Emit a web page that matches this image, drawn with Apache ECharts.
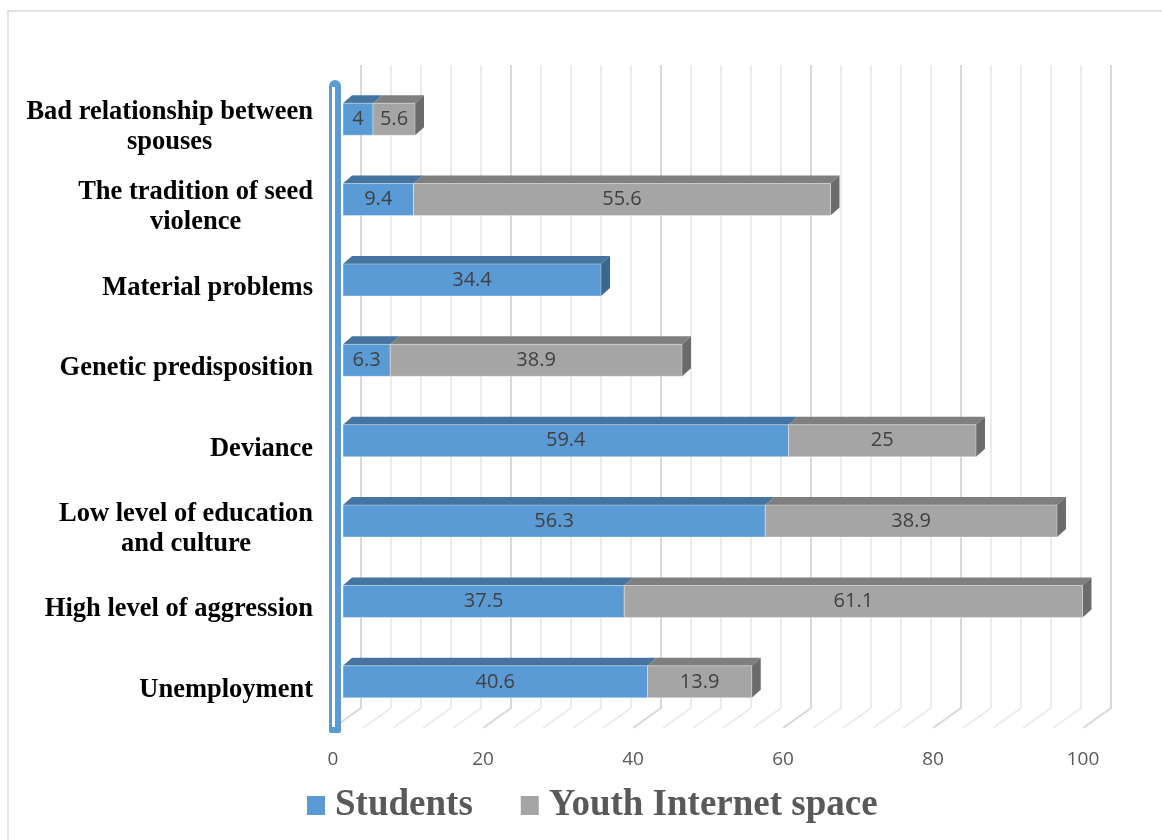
<!DOCTYPE html>
<html>
<head>
<meta charset="utf-8">
<script src="https://cdn.jsdelivr.net/npm/echarts@6/dist/echarts.min.js"></script>
<style>
  html, body { margin: 0; padding: 0; background: #ffffff; }
  #chart { width: 1162px; height: 840px; }
</style>
</head>
<body>
<div id="chart"></div>
<script>
// Perceived causes of violence, stacked by source
const categories = [
  'Bad relationship between\nspouses',
  'The tradition of seed\nviolence',
  'Material problems',
  'Genetic predisposition',
  'Deviance',
  'Low level of education\nand culture',
  'High level of aggression',
  'Unemployment'
];
const students      = [4, 9.4, 34.4, 6.3, 59.4, 56.3, 37.5, 40.6];
const youthInternet = [5.6, 55.6, null, 38.9, 25, 38.9, 61.1, 13.9];
const seriesNames   = ['Students', 'Youth Internet space'];
const xTicks        = [0, 20, 40, 60, 80, 100];
// back-wall grid lines (minor every 4, major every 20)
const wallLines = [0, 4, 8, 12, 16, 20, 24, 28, 32, 36, 40, 44, 48, 52, 56, 60,
                   64, 68, 72, 76, 80, 84, 88, 92, 96, 100];

// pseudo-3D depth offsets
const BAR_DX = 9, BAR_DY = 8, BAR_H = 32;
const WALL_DX = 18, FLOOR_DX = -10;

const palette = {
  Students: { front: '#5b9bd5', top: '#44749f', side: '#3b6690' },
  'Youth Internet space': { front: '#a5a5a5', top: '#7f7f7f', side: '#6b6b6b' }
};

function barRenderer(name) {
  const c = palette[name];
  return function (params, api) {
    const cat = api.value(0);
    const start = api.value(1);
    const end = api.value(2);
    const val = api.value(3);
    const isLast = api.value(4) === 1;
    const p0 = api.coord([start, cat]);
    const p1 = api.coord([end, cat]);
    const x0 = p0[0], x1 = p1[0];
    const yT = p0[1] - BAR_H / 2, yB = p0[1] + BAR_H / 2;
    const children = [
      {
        type: 'polygon',
        shape: { points: [[x0, yT], [x1, yT], [x1 + BAR_DX, yT - BAR_DY], [x0 + BAR_DX, yT - BAR_DY]] },
        style: { fill: c.top }
      }
    ];
    if (isLast) {
      children.push({
        type: 'polygon',
        shape: { points: [[x1, yT], [x1 + BAR_DX, yT - BAR_DY], [x1 + BAR_DX, yB - BAR_DY], [x1, yB]] },
        style: { fill: c.side }
      });
    }
    children.push({
      type: 'rect',
      shape: { x: x0, y: yT, width: x1 - x0, height: BAR_H },
      style: { fill: c.front, stroke: 'rgba(255,255,255,0.35)', lineWidth: 1 }
    });
    children.push({
      type: 'text',
      style: {
        text: String(val),
        x: (x0 + x1) / 2,
        y: p0[1],
        align: 'center',
        verticalAlign: 'middle',
        fill: '#404040',
        font: '20px "Open Sans", sans-serif'
      }
    });
    return { type: 'group', children: children };
  };
}

const studentData = students.map((v, i) => [i, 0, v, v, youthInternet[i] == null ? 1 : 0]);
const youthData = [];
youthInternet.forEach((v, i) => {
  if (v != null) youthData.push([i, students[i], students[i] + v, v, 1]);
});

const labelFont = '"Liberation Serif", "Times New Roman", serif';

const chart = echarts.init(document.getElementById('chart'), null, { renderer: 'canvas' });
chart.setOption({
  animation: false,
  backgroundColor: '#ffffff',
  grid: { left: 343, width: 750, top: 79, height: 643 },
  xAxis: {
    type: 'value',
    min: xTicks[0],
    max: xTicks[xTicks.length - 1],
    interval: xTicks[1] - xTicks[0],
    axisLine: { show: false },
    axisTick: { show: false },
    splitLine: { show: false },
    axisLabel: {
      margin: 28,
      padding: [0, 20, 0, 0],
      color: '#595959',
      fontSize: 19,
      fontFamily: '"Open Sans", sans-serif'
    }
  },
  yAxis: {
    type: 'category',
    data: categories,
    inverse: true,
    axisLine: { show: false },
    axisTick: { show: false },
    splitLine: { show: false },
    axisLabel: {
      margin: 30,
      padding: [16, 0, 0, 0],
      formatter: v => v.split('\n').map(s => '{c|' + s + '}').join('\n'),
      rich: {
        c: {
          align: 'center',
          fontFamily: labelFont,
          fontWeight: 'bold',
          fontSize: 26.5,
          lineHeight: 30,
          color: '#000000'
        }
      }
    }
  },
  legend: {
    data: seriesNames,
    left: 302,
    top: 782,
    icon: 'rect',
    itemWidth: 18,
    itemHeight: 19,
    itemGap: 48,
    textStyle: {
      fontFamily: labelFont,
      fontWeight: 'bold',
      fontSize: 37,
      color: '#595959',
      padding: [0, 0, 0, 5]
    }
  },
  graphic: [
    {
      type: 'rect', z: -10, silent: true,
      shape: { x: 8, y: 11, width: 1200, height: 900 },
      style: { fill: 'none', stroke: '#d9d9d9', lineWidth: 1.5 }
    },
    {
      type: 'rect', z: 100, silent: true,
      shape: { x: 329, y: 80, width: 12, height: 653, r: [6, 6, 2, 2] },
      style: { fill: '#5b9bd5' }
    },
    {
      type: 'rect', z: 101, silent: true,
      shape: { x: 332, y: 87, width: 3, height: 640 },
      style: { fill: '#ffffff' }
    }
  ],
  series: [
    {
      type: 'custom',
      name: 'wall',
      silent: true,
      z: 0,
      encode: { x: 0, y: 1 },
      data: wallLines.map(v => [v, 0]),
      renderItem: function (params, api) {
        const v = api.value(0);
        const x = api.coord([v, 0])[0];
        const cs = params.coordSys;
        const top = cs.y - 14, back = cs.y + cs.height - 14, front = cs.y + cs.height + 6;
        const major = v % 20 === 0;
        return {
          type: 'polyline',
          shape: { points: [[x + WALL_DX, top], [x + WALL_DX, back], [x + FLOOR_DX, front]] },
          style: { fill: 'none', stroke: major ? '#d9d9d9' : '#ececec', lineWidth: 2 }
        };
      }
    },
    {
      type: 'custom',
      name: seriesNames[0],
      z: 2,
      itemStyle: { color: palette.Students.front },
      encode: { x: [1, 2], y: 0 },
      data: studentData,
      renderItem: barRenderer(seriesNames[0])
    },
    {
      type: 'custom',
      name: seriesNames[1],
      z: 2,
      itemStyle: { color: palette['Youth Internet space'].front },
      encode: { x: [1, 2], y: 0 },
      data: youthData,
      renderItem: barRenderer(seriesNames[1])
    }
  ]
});
</script>
</body>
</html>
